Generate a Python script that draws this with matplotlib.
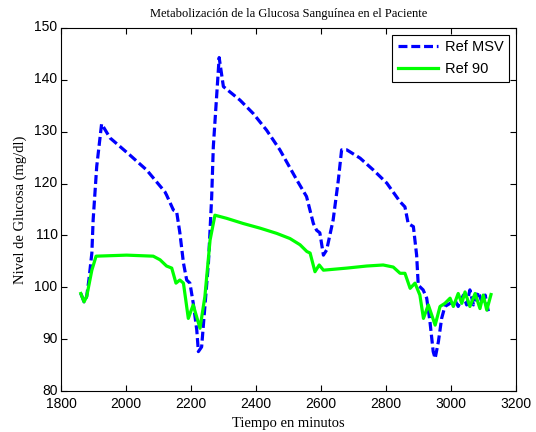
import matplotlib
matplotlib.use('Agg')
import matplotlib.pyplot as plt
from matplotlib.transforms import ScaledTranslation

# glucose traces (time in minutes, mg/dl)
t_msv = [1861, 1871, 1879, 1886, 1895, 1899, 1910, 1925, 1951, 2012, 2064, 2120,
         2125, 2146, 2156, 2166, 2177, 2187, 2197, 2207, 2218, 2223, 2233, 2238,
         2254, 2264, 2269, 2287, 2300, 2351, 2392, 2433, 2474, 2526, 2556, 2577,
         2587, 2597, 2608, 2618, 2638, 2654, 2664, 2680, 2721, 2762, 2803, 2844,
         2859, 2869, 2885, 2895, 2900, 2915, 2926, 2936, 2946, 2952, 2962, 2972,
         2982, 2998, 3013, 3023, 3039, 3049, 3059, 3070, 3085, 3097, 3106, 3116]
g_msv = [98.8, 97.2, 98.2, 101.5, 106.6, 113.0, 123.3, 131.5, 128.8, 125.5, 122.6, 118.4,
         117.8, 114.9, 114.6, 110.5, 104.7, 101.4, 100.8, 97.0, 91.8, 87.6, 88.5, 92.4,
         104.7, 117.5, 127.1, 144.3, 138.7, 136.1, 133.5, 130.3, 126.5, 120.7, 117.5, 112.3,
         111.0, 110.5, 106.2, 107.2, 113.0, 120.7, 126.5, 126.5, 124.9, 122.6, 120.1, 116.5,
         115.5, 112.3, 111.7, 106.2, 100.4, 99.5, 97.9, 93.4, 87.6, 86.3, 89.5, 94.0,
         96.3, 96.9, 97.5, 96.3, 98.5, 96.6, 99.5, 96.6, 99.1, 96.9, 98.5, 95.3]

t_90 = [1861, 1871, 1879, 1895, 1908, 2002, 2084, 2105, 2125, 2141, 2154, 2166,
        2177, 2192, 2207, 2228, 2243, 2259, 2274, 2310, 2361, 2413, 2464, 2505,
        2536, 2557, 2567, 2582, 2595, 2608, 2680, 2741, 2792, 2823, 2844, 2859,
        2875, 2890, 2905, 2916, 2931, 2952, 2967, 2982, 2998, 3008, 3023, 3034,
        3044, 3059, 3075, 3090, 3100, 3111, 3124]
g_90 = [98.8, 97.2, 98.2, 103.3, 106.0, 106.2, 106.0, 105.3, 104.1, 103.7, 100.8, 101.4,
        100.8, 94.0, 96.6, 92.1, 98.2, 109.1, 113.9, 113.3, 112.3, 111.4, 110.4, 109.4,
        108.2, 106.9, 106.6, 103.0, 104.3, 103.3, 103.7, 104.1, 104.3, 103.9, 102.7, 102.7,
        99.8, 100.8, 98.5, 94.0, 96.6, 92.7, 96.3, 96.9, 97.9, 96.3, 98.8, 96.9,
        99.1, 96.3, 98.8, 95.9, 98.5, 95.6, 98.6]

x_ticks = [1800, 2000, 2200, 2400, 2600, 2800, 3000, 3200]
y_ticks = [80, 90, 100, 110, 120, 130, 140, 150]

plt.rcParams['font.family'] = ['Liberation Sans', 'DejaVu Sans']
serif = 'Liberation Serif'

fig = plt.figure(figsize=(5.36, 4.32), dpi=100)
ax = fig.add_axes([0.1138, 0.0949, 0.9621 - 0.1138, 0.9352 - 0.0949])

ax.plot(t_msv, g_msv, color='#0000ff', lw=2.3, ls=(0, (2.8, 1.2)), label='Ref MSV')
ax.plot(t_90, g_90, color='#00ff00', lw=2.3, label='Ref 90')

ax.set_xlim(1800, 3200)
ax.set_ylim(80, 150)
ax.set_xticks(x_ticks)
ax.set_yticks(y_ticks)
ax.tick_params(direction='in', length=4, width=0.8, top=True, right=True,
               labelsize=10)
ax.tick_params(axis='x', pad=4.5)
ax.tick_params(axis='y', pad=2.5)
# y tick labels sit a couple of pixels above their ticks
lift = ScaledTranslation(0, 2 / 100, fig.dpi_scale_trans)
for lab in ax.get_yticklabels():
    lab.set_transform(lab.get_transform() + lift)
for s in ax.spines.values():
    s.set_linewidth(0.8)

ax.set_title('Metabolización de la Glucosa Sanguínea en el Paciente',
             family=serif, fontsize=9, pad=8)
ax.set_xlabel('Tiempo en minutos', family=serif, fontsize=10.5, labelpad=4)
ax.set_ylabel('Nivel de Glucosa (mg/dl)', family=serif, fontsize=10.5, labelpad=5)

leg = ax.legend(loc='upper right', fancybox=False, edgecolor='black',
                fontsize=10.5, handlelength=2.75, handletextpad=0.45,
                borderaxespad=0.45, framealpha=1)
leg.get_frame().set_linewidth(0.8)

fig.savefig('out.png', dpi=100)
